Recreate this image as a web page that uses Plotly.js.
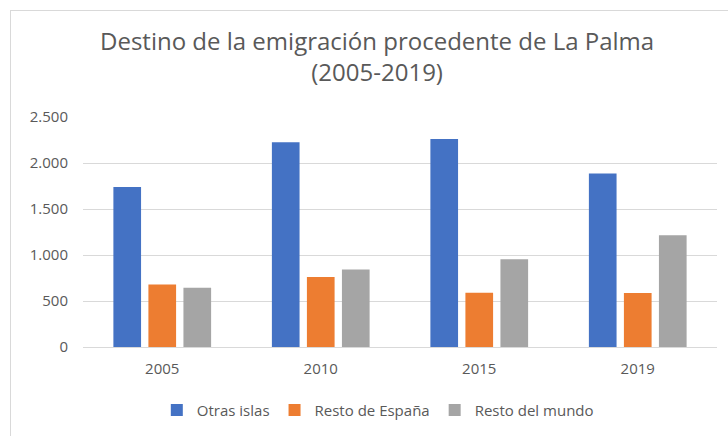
<!DOCTYPE html>
<html>
<head>
<meta charset="utf-8">
<script src="https://cdn.plot.ly/plotly-3.0.1.min.js"></script>
<style>
  html, body { margin: 0; padding: 0; background: #fff; }
  #wrap { position: relative; width: 728px; height: 436px; }
  #chart { position: absolute; left: 0; top: 0; width: 728px; height: 436px; }
  #frame { position: absolute; left: 10px; top: 10px; right: 0; bottom: 0;
           border-left: 1.5px solid #d9d9d9; border-top: 1.5px solid #d9d9d9;
           pointer-events: none; }
</style>
</head>
<body>
<div id="wrap">
  <div id="chart"></div>
  <div id="frame"></div>
</div>
<script>
const years = ['2005', '2010', '2015', '2019'];
const otrasIslas = [1740, 2225, 2262, 1886];
const restoEspana = [680, 760, 590, 588];
const restoMundo = [645, 842, 955, 1214];
const seriesNames = ['Otras islas', 'Resto de España', 'Resto del mundo'];
const seriesColors = ['#4472C4', '#ED7D31', '#A5A5A5'];
const yTickVals = [0, 500, 1000, 1500, 2000, 2500];
const yTickText = ['0', '500', '1.000', '1.500', '2.000', '2.500'];

const allSeries = [otrasIslas, restoEspana, restoMundo];
const data = allSeries.map((vals, i) => ({
  type: 'bar',
  name: seriesNames[i],
  x: years,
  y: vals,
  marker: { color: seriesColors[i], line: { width: 0 } },
  hoverinfo: 'x+y+name'
}));

const fontFam = '"Open Sans", "Noto Sans", sans-serif';
const layout = {
  width: 728,
  height: 436,
  margin: { l: 83, r: 11, t: 117, b: 88 },
  paper_bgcolor: '#ffffff',
  plot_bgcolor: '#ffffff',
  font: { family: fontFam, color: '#595959', size: 15 },
  title: {
    text: 'Destino de la emigración procedente de La Palma<br>(2005-2019)',
    font: { family: fontFam, size: 24, color: '#595959' },
    xref: 'container', x: 0.518, xanchor: 'center',
    yref: 'container', y: 0.885, yanchor: 'top'
  },
  barmode: 'group',
  bargap: 0.337,
  bargroupgap: 0.21,
  xaxis: {
    type: 'category',
    showgrid: false,
    showline: false,
    zeroline: false,
    ticks: '',
    tickfont: { size: 15, color: '#595959' },
    ticklabelstandoff: 11
  },
  yaxis: {
    range: [0, 2500],
    tickvals: yTickVals,
    ticktext: yTickText,
    showgrid: true,
    gridcolor: '#d9d9d9',
    gridwidth: 1,
    zeroline: true,
    zerolinecolor: '#d9d9d9',
    zerolinewidth: 1,
    showline: false,
    ticks: '',
    tickfont: { size: 15, color: '#595959' },
    ticklabelstandoff: 14
  },
  showlegend: true,
  legend: {
    orientation: 'h',
    x: 0.465, xanchor: 'center',
    y: -0.27, yanchor: 'middle',
    font: { size: 15, color: '#595959' },
    itemwidth: 30,
    traceorder: 'normal'
  }
};

Plotly.newPlot('chart', data, layout, { displayModeBar: false, staticPlot: true });
</script>
</body>
</html>
